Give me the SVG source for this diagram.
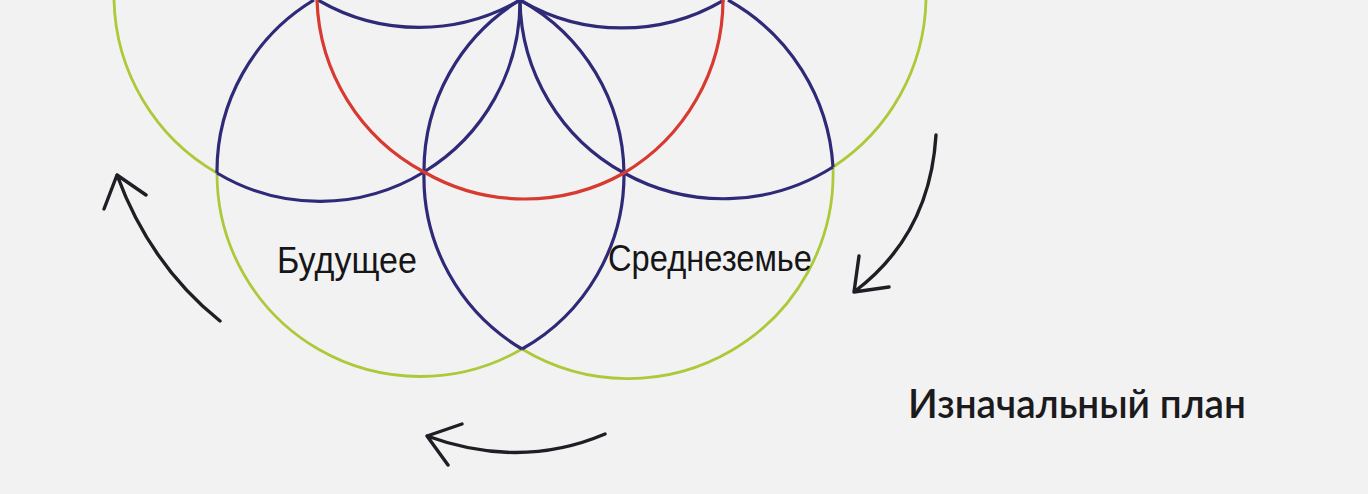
<svg xmlns="http://www.w3.org/2000/svg" width="1368" height="494" viewBox="0 0 1368 494">
<style>
.g{fill:none;stroke:#acc93a;stroke-width:2.8}
.b{fill:none;stroke:#2f2a78;stroke-width:3.2}
.r{fill:none;stroke:#d63a30;stroke-width:3.2}
.ar{fill:none;stroke:#1f1e24;stroke-width:3.4;stroke-linecap:round;stroke-linejoin:round}
.lbl{font-family:"Liberation Sans",Arial,sans-serif;font-size:37px;fill:#161618}
.ttl{font-family:Lato,"Noto Sans",sans-serif;font-size:40px;font-weight:600;fill:#1b1b1d}
</style>
<rect width="1368" height="494" fill="#f3f2f2"/>
<g id="circles">
<g id="green">
<path class="g" d="M114,0 A205,205 0 0,0 217,173 A203,203 0 0,0 522,349 A205,205 0 0,0 833,167 A205,205 0 0,0 926,0"/>
</g>
<g id="blue">
<path class="b" d="M314,0 A200,200 0 0,0 217,173"/>
<path class="b" d="M217,173 A200,200 0 0,0 424,172 A200,200 0 0,0 520,0"/>
<path class="b" d="M520,0 A200,200 0 0,0 424,172 A200,200 0 0,0 522,349"/>
<path class="b" d="M520,0 A200,200 0 0,1 624,173 A200,200 0 0,1 522,349"/>
<path class="b" d="M520,0 A200,200 0 0,0 624,173 A205,205 0 0,0 833,167"/>
<path class="b" d="M728,0 A205,205 0 0,1 833,167"/>
<path class="b" d="M318,0 A200,200 0 0,0 520,0 A200,200 0 0,0 724,0"/>
</g>
<g id="red">
<path class="r" d="M317,0 A202,202 0 0,0 424,172 A202,202 0 0,0 624,173 A202,202 0 0,0 723,0"/>
</g>
</g>
<g id="connectors">
<path class="ar" d="M220,321 Q150,265 117,175 M104,209 L117,175 L146,195"/>
<path class="ar" d="M936,135 Q930,235 854,292 M859,256 L854,292 L889,287"/>
<path class="ar" d="M605,434 Q520,470 427,436 M462,424 L427,436 L448,465"/>
</g>
<g id="labels">
<text class="lbl" x="277" y="273" textLength="140" lengthAdjust="spacingAndGlyphs">Будущее</text>
<text class="lbl" x="608" y="271" textLength="204" lengthAdjust="spacingAndGlyphs">Среднеземье</text>
<text class="ttl" x="908" y="418" textLength="338" lengthAdjust="spacingAndGlyphs">Изначальный план</text>
</g>
</svg>
